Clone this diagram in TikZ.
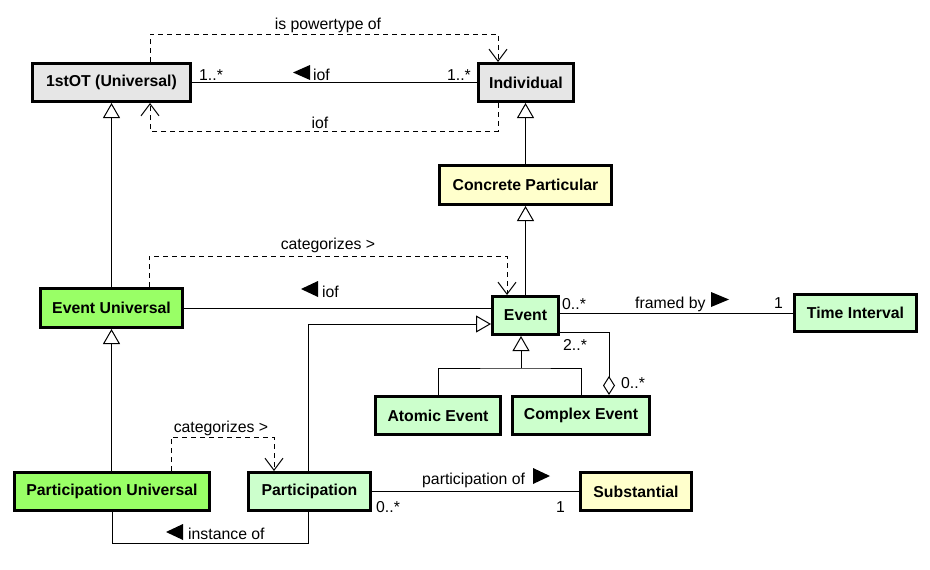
\documentclass[tikz,border=0pt]{standalone}
\usepackage{fontspec}
\setmainfont{Liberation Sans}
\usetikzlibrary{arrows.meta,calc}
\definecolor{ugray}{HTML}{E6E6E6}
\definecolor{uyellow}{HTML}{FFFFCC}
\definecolor{ulgreen}{HTML}{CCFFCC}
\definecolor{ugreen}{HTML}{99FF66}
\tikzset{
  cls/.style={draw, line width=3pt, inner sep=0pt, font=\fontsize{15.8}{18}\selectfont\bfseries},
  conn/.style={line width=1pt},
  gen/.style={conn, -{Triangle[open, length=15pt, width=17pt, fill=white]}},
  dep/.style={conn, dash pattern=on 5pt off 4pt, -{Straight Barb[length=12pt, width=18pt]}},
  agg/.style={conn, -{Diamond[open, length=19pt, width=12pt, fill=white]}},
  lbl/.style={inner sep=0pt, font=\fontsize{15.8}{18}\selectfont},
}
\begin{document}
\begin{tikzpicture}[x=1pt, y=-1pt]
\useasboundingbox[fill=white] (0,0) rectangle (930,570);

% classes
\node[cls, fill=ugray, minimum width=158pt, minimum height=38pt] (ot) at (111.5,82.5) {1stOT (Universal)};
\node[cls, fill=ugray, minimum width=95pt, minimum height=38pt] (ind) at (526,82.5) {Individual};
\node[cls, fill=uyellow, minimum width=172pt, minimum height=39pt] (cp) at (525.5,185) {Concrete Particular};
\node[cls, fill=ugreen, minimum width=142pt, minimum height=39pt] (eu) at (111.5,308) {Event Universal};
\node[cls, fill=ulgreen, minimum width=66pt, minimum height=38pt] (ev) at (525.5,315.5) {Event};
\node[cls, fill=ulgreen, minimum width=122pt, minimum height=37pt] (ti) at (855.5,313) {Time Interval};
\node[cls, fill=ulgreen, minimum width=125pt, minimum height=38pt] (ae) at (438,415.5) {Atomic Event};
\node[cls, fill=ulgreen, minimum width=137pt, minimum height=38pt] (ce) at (581,415.5) {Complex Event};
\node[cls, fill=ugreen, minimum width=195pt, minimum height=38pt] (pu) at (112,491.5) {Participation Universal};
\node[cls, fill=ulgreen, minimum width=122pt, minimum height=38pt] (pa) at (309.5,491.5) {Participation};
\node[cls, fill=uyellow, minimum width=111pt, minimum height=38pt] (su) at (636,491.5) {Substantial};

% bend coordinates
\coordinate (pw1) at (150,34);
\coordinate (pw2) at (498,34);
\coordinate (io1) at (498,131);
\coordinate (io2) at (150,131);
\coordinate (c1) at (149,256);
\coordinate (c2) at (507,256);
\coordinate (g1) at (308,324);
\coordinate (j) at (521,368);
\coordinate (a1) at (609,332);
\coordinate (d1) at (171,437);
\coordinate (d2) at (274,437);
\coordinate (i1) at (112,543);
\coordinate (i2) at (308,543);

% connectors
\draw[conn] (ot.east) -- (ind.west);
\draw[dep] (ot.north -| pw1) -- (pw1) -- (pw2) -- (ind.north -| pw2);
\draw[dep] (ind.south -| io1) -- (io1) -- (io2) -- (ot.south -| io2);
\draw[gen] (eu.north) -- (ot.south);
\draw[gen] (cp.north) -- (cp.north |- ind.south);
\draw[gen] (ev.north) -- (cp.south);
\draw[conn] (eu.east) -- (eu.east -| ev.west);
\draw[dep] (eu.north -| c1) -- (c1) -- (c2) -- (ev.north -| c2);
\draw[gen] (pa.north -| g1) -- (g1) -- (ev.west |- g1);
\draw[conn] (ae.north) |- (j) -| (ce.north);
\draw[gen] (j) -- (ev.south -| j);
\draw[agg] (ev.east |- a1) -- (a1) -- (ce.north -| a1);
\draw[conn] (ev.east |- ti.west) -- (ti.west);
\draw[gen] (pu.north -| eu.south) -- (eu.south);
\draw[dep] (pu.north -| d1) -- (d1) -- (d2) -- (pa.north -| d2);
\draw[conn] (pu.south -| i1) -- (i1) -- (i2) -- (pa.south -| i2);
\draw[conn] (pa.east) -- (su.west);

% label triangles
\fill (293,72.5) -- (310,65) -- (310,80) -- cycle;
\fill (301,289) -- (318,281) -- (318,297) -- cycle;
\fill (729,299.5) -- (711,292) -- (711,307) -- cycle;
\fill (166,532) -- (183,524) -- (183,540) -- cycle;
\fill (550,476) -- (533,468) -- (533,484) -- cycle;

% labels
\node[lbl, anchor=base west] (l1) at (199,80) {1..*};
\node[lbl, anchor=base west] (l2) at (313,80) {iof};
\node[lbl, anchor=base east] (l3) at (471,80) {1..*};
\node[lbl, anchor=base] (l4) at (328,29) {is powertype of};
\node[lbl, anchor=base] (l5) at (320,128) {iof};
\node[lbl, anchor=base] (l6) at (328,249) {categorizes >};
\node[lbl, anchor=base west] (l7) at (322,297) {iof};
\node[lbl, anchor=base west] (l8) at (562,309) {0..*};
\node[lbl, anchor=base west] (l9) at (635,308) {framed by};
\node[lbl, anchor=base east] (l10) at (783,308) {1};
\node[lbl, anchor=base west] (l11) at (563,350) {2..*};
\node[lbl, anchor=base west] (l12) at (621,388) {0..*};
\node[lbl, anchor=base] (l13) at (221,432) {categorizes >};
\node[lbl, anchor=base west] (l14) at (188,539) {instance of};
\node[lbl, anchor=base west] (l15) at (422,484) {participation of};
\node[lbl, anchor=base west] (l16) at (376,512) {0..*};
\node[lbl, anchor=base east] (l17) at (565,512) {1};
\end{tikzpicture}
\end{document}
